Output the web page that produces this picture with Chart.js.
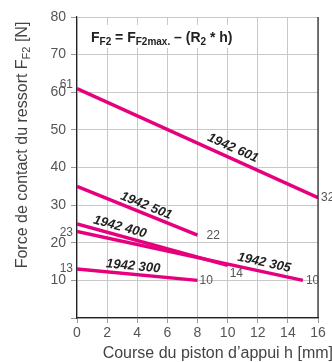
<!DOCTYPE html>
<html><head><meta charset="utf-8">
<script src="https://cdn.jsdelivr.net/npm/chart.js@4/dist/chart.umd.min.js"></script>
<style>html,body{margin:0;padding:0;background:#fff;}canvas{display:block;}</style>
</head><body>
<canvas id="c" width="332" height="362"></canvas>
<script>
// ---- data ----
const seriesNames = ['1942 601', '1942 501', '1942 400', '1942 305', '1942 300'];
const startStroke = [0, 0, 0, 0, 0];
const endStroke = [16, 8, 10, 15, 8];
const startForce = [61, 35, 25, 23, 13];
const endForce = [32, 22, 14, 10, 10];
const showStartValue = [true, false, false, true, true];
const xTickValues = [0, 2, 4, 6, 8, 10, 12, 14, 16];
const yTickValues = [10, 20, 30, 40, 50, 60, 70, 80];
const xTitle = 'Course du piston d\u2019appui h [mm]';

// ---- styles ----
const MAG = 'rgb(230,0,126)';
const FONT = '"Liberation Sans", Arial, sans-serif';
const nameT = [0.63, 0.55, 0.27, 0.82, 0.46];
const nameOff = [10, 8, 8.5, 9, 8];
const endOff = [[3, 0], [9, 0], [2, 8], [3, 0], [2, 0]];
const startOff = [-3.5, 0, 0, 1, 0];

const datasets = seriesNames.map((n, i) => ({
  label: n,
  data: [{x: startStroke[i], y: startForce[i]}, {x: endStroke[i], y: endForce[i]}],
  borderColor: MAG, backgroundColor: MAG, borderWidth: 3.5,
  pointRadius: 0, showLine: true, borderCapStyle: 'butt'
}));

function drawRich(ctx, parts, x, y) {
  let cx = x;
  for (const p of parts) {
    ctx.font = p.font;
    ctx.fillText(p.t, cx, y + (p.dy || 0));
    cx += ctx.measureText(p.t).width;
  }
  return cx;
}
function richWidth(ctx, parts) {
  let w = 0;
  for (const p of parts) { ctx.font = p.font; w += ctx.measureText(p.t).width; }
  return w;
}

const deco = {
  id: 'deco',
  beforeDatasetsDraw(chart) {
    const ctx = chart.ctx;
    ctx.save();
    ctx.fillStyle = '#fff';
    ctx.fillRect(85, 25, 156, 23);
    const B = 'bold 14px ' + FONT, S = 'bold 10px ' + FONT;
    ctx.fillStyle = '#222';
    ctx.textBaseline = 'alphabetic';
    drawRich(ctx, [
      {t: 'F', font: B}, {t: 'F2', font: S, dy: 3}, {t: ' = F', font: B},
      {t: 'F2max.', font: S, dy: 3}, {t: ' \u2013 (R', font: B}, {t: '2', font: S, dy: 3},
      {t: ' * h)', font: B}
    ], 91, 41.5);
    ctx.restore();
  },
  afterDatasetsDraw(chart) {
    const ctx = chart.ctx, a = chart.chartArea;
    const xs = chart.scales.x, ys = chart.scales.y;
    ctx.save();
    ctx.strokeStyle = '#222'; ctx.lineWidth = 1.2;
    ctx.beginPath(); ctx.moveTo(a.right, a.top); ctx.lineTo(a.right, a.bottom); ctx.stroke();
    ctx.font = '12px ' + FONT; ctx.fillStyle = '#555'; ctx.textBaseline = 'middle';
    for (let i = 0; i < seriesNames.length; i++) {
      const ex = xs.getPixelForValue(endStroke[i]), ey = ys.getPixelForValue(endForce[i]);
      ctx.textAlign = 'left';
      ctx.fillText(String(endForce[i]), ex + endOff[i][0], ey + endOff[i][1]);
      if (showStartValue[i]) {
        const sx = xs.getPixelForValue(startStroke[i]), sy = ys.getPixelForValue(startForce[i]);
        ctx.textAlign = 'right';
        ctx.fillText(String(startForce[i]), sx - 4, sy + startOff[i]);
      }
    }
    ctx.font = 'italic bold 13px ' + FONT; ctx.fillStyle = '#222';
    ctx.textAlign = 'center'; ctx.textBaseline = 'middle';
    for (let i = 0; i < seriesNames.length; i++) {
      const x0 = xs.getPixelForValue(startStroke[i]), y0 = ys.getPixelForValue(startForce[i]);
      const x1 = xs.getPixelForValue(endStroke[i]), y1 = ys.getPixelForValue(endForce[i]);
      const ang = Math.atan2(y1 - y0, x1 - x0);
      const t = nameT[i];
      const px = x0 + (x1 - x0) * t, py = y0 + (y1 - y0) * t;
      const nx = Math.sin(ang) * nameOff[i], ny = -Math.cos(ang) * nameOff[i];
      ctx.save();
      ctx.translate(px + nx, py + ny);
      ctx.rotate(ang);
      ctx.fillText(seriesNames[i], 0, 0);
      ctx.restore();
    }
    // y title
    ctx.fillStyle = '#444'; ctx.textBaseline = 'alphabetic'; ctx.textAlign = 'left';
    const N = '16px ' + FONT, SS = '11px ' + FONT;
    const parts = [{t: 'Force de contact du ressort F', font: N}, {t: 'F2', font: SS, dy: 3}, {t: ' [N]', font: N}];
    const w = richWidth(ctx, parts);
    ctx.save();
    ctx.translate(26.5, 145);
    ctx.rotate(-Math.PI / 2);
    drawRich(ctx, parts, -w / 2, 0);
    ctx.restore();
    // x title
    ctx.font = N; ctx.textAlign = 'right';
    ctx.fillText(xTitle, 333, 358);
    ctx.restore();
  }
};

new Chart(document.getElementById('c'), {
  type: 'scatter',
  data: { datasets },
  plugins: [deco],
  options: {
    responsive: false, animation: false,
    layout: { padding: { top: 17, right: 14, left: 0, bottom: 0 } },
    plugins: { legend: { display: false }, tooltip: { enabled: false } },
    scales: {
      x: {
        type: 'linear', min: 0, max: 16,
        afterBuildTicks: s => { s.ticks = xTickValues.map(v => ({value: v})); },
        afterFit: s => { s.height = 44; },
        ticks: { font: { family: FONT, size: 14 }, color: '#555', padding: 2, maxRotation: 0 },
        grid: { color: '#c8c8c8', lineWidth: 1, tickLength: 5, tickColor: '#999' },
        border: { display: true, color: '#222', width: 1.2 }
      },
      y: {
        type: 'linear', min: 0, max: 80,
        afterBuildTicks: s => {
          const arr = [];
          for (let v = 0; v <= 80; v += 5) arr.push({value: v});
          s.ticks = arr;
        },
        afterFit: s => { s.width = 77; },
        ticks: {
          font: { family: FONT, size: 14 }, color: '#555', padding: 5,
          callback: v => yTickValues.includes(v) ? String(v) : ''
        },
        grid: { color: '#c8c8c8', lineWidth: 1, tickLength: 6, tickColor: '#999' },
        border: { display: true, color: '#222', width: 1.2 }
      }
    }
  }
});
</script>
</body></html>
